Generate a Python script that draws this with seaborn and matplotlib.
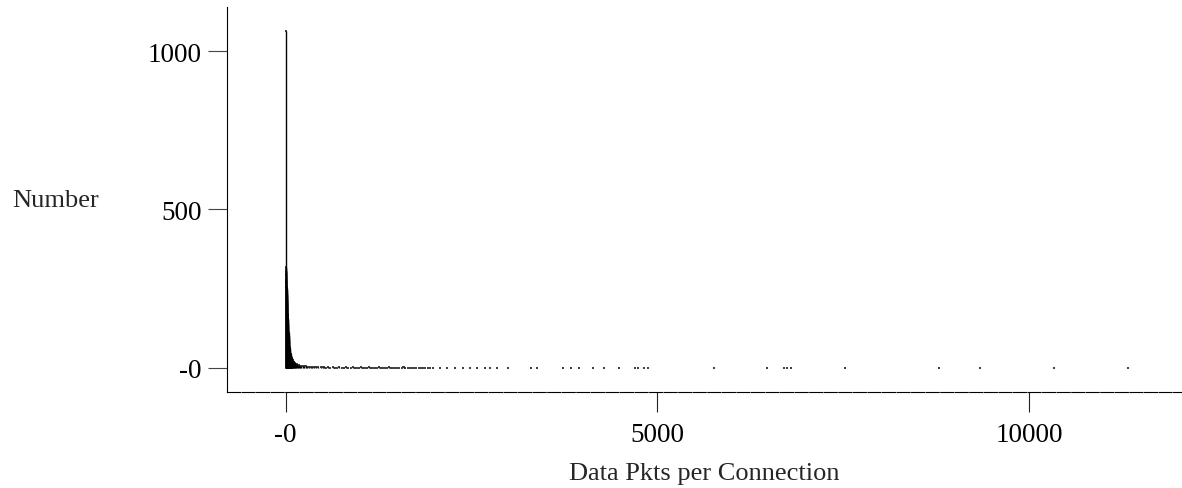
import numpy as np
import pandas as pd
import matplotlib
matplotlib.use("Agg")
import matplotlib.pyplot as plt
import seaborn as sns

# ---------------- data ----------------
head_pkts = [0, 1, 2, 3, 4, 5, 6, 7, 8, 9, 10, 11, 12, 13, 14, 15, 16, 17, 18,
             20, 22, 24, 26, 28, 30, 32, 34, 36, 38, 40, 42, 44, 46, 48, 50,
             53, 56, 59, 62, 65, 68, 71, 75, 80, 85, 90, 95, 100, 110, 120,
             130, 140, 150, 165, 180, 195, 210, 230, 250, 270, 290, 310, 335,
             360, 385, 410, 440, 470]
head_counts = [305, 1063, 318, 312, 305, 298, 290, 282, 275, 268, 260, 252, 245, 238, 230, 222, 214, 206, 198,
               185, 175, 166, 158, 150, 142, 134, 126, 118, 110, 102, 95, 88, 81, 75, 69,
               62, 56, 51, 47, 43, 40, 37, 34, 31, 29, 27, 25, 23, 20, 17,
               15, 13, 12, 10, 8, 7, 6, 6, 5, 5, 4, 4, 4,
               3, 3, 3, 3, 2]

tail_pkts = [495, 520, 548, 575, 600, 640, 665, 690, 712, 760, 790, 815, 840, 880,
             905, 930, 960, 985, 1010, 1035, 1070, 1095, 1120, 1150, 1175, 1200,
             1230, 1255, 1285, 1310, 1340, 1365, 1390, 1420, 1450, 1475, 1500,
             1530, 1560, 1585, 1610, 1640, 1670, 1700, 1725, 1750, 1790, 1820,
             1850, 1880, 1910, 1940]
tail_counts = [2, 2, 1, 2, 1, 2, 1, 1, 2, 1, 1, 2, 1, 1,
               2, 1, 1, 1, 2, 1, 1, 1, 2, 1, 1, 1,
               1, 2, 1, 1, 1, 1, 2, 1, 1, 1, 1,
               1, 1, 2, 1, 1, 1, 1, 1, 1, 1, 1,
               1, 1, 1, 1]

sparse_pkts = [1982, 2076, 2170, 2278, 2386, 2480, 2574, 2682, 2749, 2843, 2991,
               3300, 3381, 3731, 3839, 3946, 4135, 4283, 4485, 4700, 4741, 4821,
               4875, 5763, 6476, 6705, 6745, 6799, 7526, 8790, 9342, 10337, 11332]
sparse_counts = [1] * len(sparse_pkts)

xticks = [0, 5000, 10000]
xtick_labels = ["-0", "5000", "10000"]
yticks = [0, 500, 1000]
ytick_labels = ["-0", "500", "1000"]

x_label = "Data Pkts per Connection"
y_label = "Number"

# ---------------- figure ----------------
sns.set_style("ticks")
plt.rcParams["font.family"] = ["Liberation Serif", "DejaVu Serif"]

W, H = 1182, 489
fig = plt.figure(figsize=(W / 100, H / 100), dpi=100)
ax = fig.add_axes([227 / W, (H - 393) / H, (W - 227) / W, 385 / H])

df_all = pd.DataFrame({
    "pkts": head_pkts + tail_pkts + sparse_pkts,
    "count": head_counts + tail_counts + sparse_counts,
})

# impulses
ax.vlines(df_all["pkts"], 0, df_all["count"], color="black", linewidth=1.0)
# point markers
sns.scatterplot(data=df_all, x="pkts", y="count", ax=ax, marker="s", s=2.2,
                color="#444444", edgecolor="none", linewidth=0, legend=False)

ax.set_xlim(-790, 12060)
ax.set_ylim(-76, 1139)

ax.set_xticks(xticks)
ax.set_xticklabels(xtick_labels)
ax.set_yticks(yticks)
ax.set_yticklabels(ytick_labels)

ax.tick_params(axis="x", direction="out", length=14.5, width=0.8, color="#222222",
               pad=7, labelsize=19.5, labelcolor="black")
ax.tick_params(axis="y", direction="out", length=14, width=0.8, color="#444444",
               pad=4.3, labelsize=19.5, labelcolor="black")

for s in ("top", "right"):
    ax.spines[s].set_visible(False)
ax.spines["left"].set_linewidth(0.8)
ax.spines["left"].set_color("black")
ax.spines["bottom"].set_linewidth(0.8)
ax.spines["bottom"].set_color("black")
ax.spines["bottom"].set_linestyle((0, (11.7, 1.4)))

ax.set_xlabel(x_label, fontsize=19, va="baseline")
ax.xaxis.set_label_coords(0.5, (393 - 480) / 385)
ax.set_ylabel(y_label, fontsize=19, rotation=0, ha="left", va="baseline")
ax.yaxis.set_label_coords((12 - 227) / 955, (393 - 207) / 385)

ax.set_facecolor("white")
fig.patch.set_facecolor("white")
fig.savefig("out.png", dpi=100, facecolor="white")
